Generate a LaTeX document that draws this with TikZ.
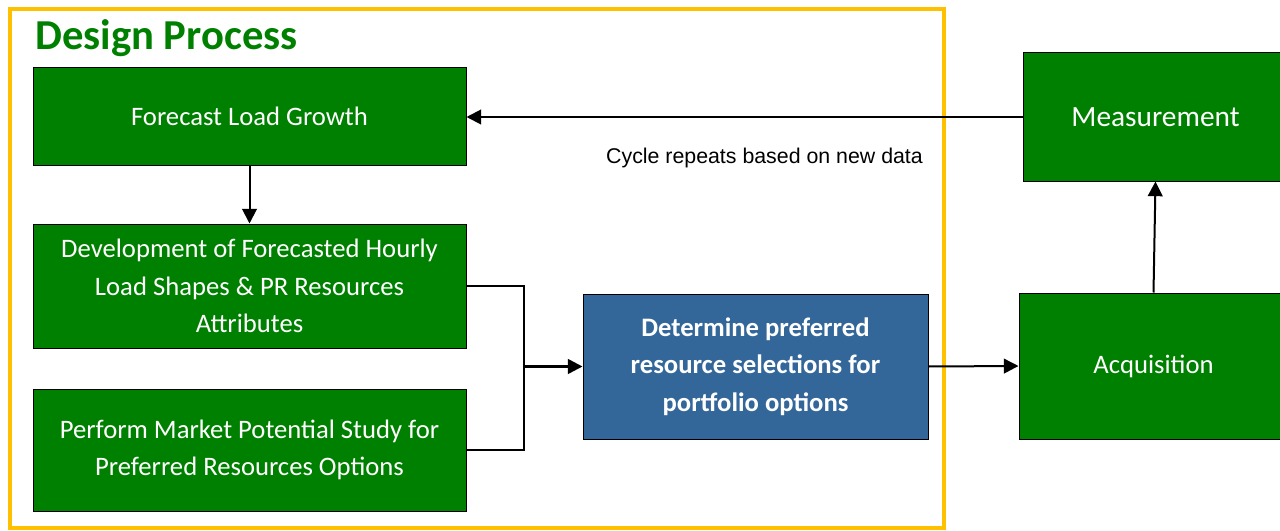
\documentclass[tikz,border=0pt]{standalone}
\usepackage{fontspec}
\setmainfont{Carlito}
\newfontfamily\arialf{Liberation Sans}
\usetikzlibrary{arrows.meta,fit}
\definecolor{boxgreen}{RGB}{0,128,0}
\definecolor{boxblue}{RGB}{51,102,153}
\definecolor{frameyellow}{RGB}{255,192,0}
\tikzset{
  gbox/.style={draw=black, line width=0.75pt, fill=boxgreen, inner sep=0pt},
  bbox/.style={gbox, fill=boxblue},
  btext/.style={text=white, inner sep=0pt, align=center, font=\fontsize{20}{28}\selectfont},
  conn/.style={line width=1.5pt, draw=black},
  arr/.style={conn, -{Triangle[length=11pt,width=11pt]}},
}
\begin{document}
\begin{tikzpicture}[x=0.75pt,y=-0.75pt]
\useasboundingbox (0,0) rectangle (1280,531);
\draw[frameyellow, line width=3pt] (10,9) rectangle (944,528);
\node[anchor=base west, text=boxgreen, inner sep=0pt, font=\fontsize{32}{38}\selectfont\bfseries] (title) at (35,50) {Design Process};
\node[gbox, fit={(33,68) (466,165)}] (fore) {};
\node[gbox, fit={(33,224) (466,348)}] (dev) {};
\node[gbox, fit={(33,389) (466,511)}] (perf) {};
\node[bbox, fit={(583,294) (928,439)}] (det) {};
\node[gbox, fit={(1023,53) (1288,181)}] (meas) {};
\node[gbox, fit={(1019,293) (1288,439)}] (acq) {};
\node[btext] (foret) at (fore.center) {Forecast Load Growth};
\node[btext] (devt) at (dev.center) {Development of Forecasted Hourly\\Load Shapes \& PR Resources\\Attributes};
\node[btext] (perft) at (perf.center) {Perform Market Potential Study for\\Preferred Resources Options};
\node[btext, font=\fontsize{20}{28}\selectfont\bfseries] (dett) at (det.center) {Determine preferred\\resource selections for\\portfolio options};
\node[btext, font=\fontsize{22}{28}\selectfont] (meast) at (meas.center) {Measurement};
\node[btext] (acqt) at (acq.center) {Acquisition};
\node[font=\arialf\fontsize{16}{20}\selectfont, inner sep=0pt, anchor=base] (lbl) at (764.5,164) {Cycle repeats based on new data};
\coordinate (j) at (524,366.5);
\draw[arr] (meas.west) -- (fore.east |- meas.west);
\draw[arr] (fore.south) -- (dev.north);
\draw[conn] (dev.east) -| (j);
\draw[conn] (perf.east) -| (j);
\draw[arr, line width=1.9pt] (j) -- (det.west);
\draw[arr] (det.east) -- (acq.west);
\draw[arr] (acq.north) -- (meas.south);
\end{tikzpicture}
\end{document}
